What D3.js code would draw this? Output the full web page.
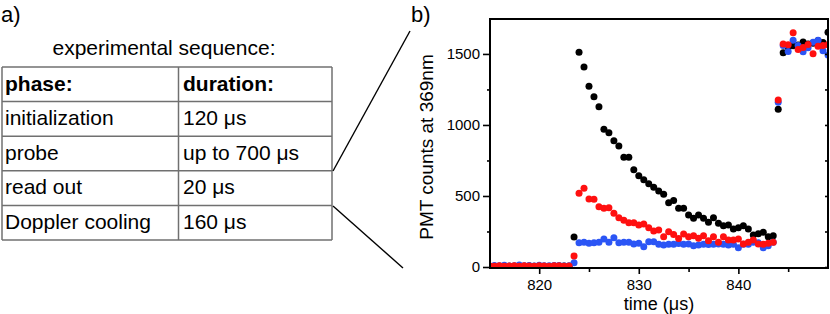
<!DOCTYPE html>
<html>
<head>
<meta charset="utf-8">
<script src="https://cdn.jsdelivr.net/npm/d3@7"></script>
<style>
  body { margin: 0; background: #fff; }
  svg { display: block; font-family: "Liberation Sans", Arial, sans-serif; }
</style>
</head>
<body>
<div id="chart"></div>
<script>
// ---- table data (panel a) ----
const tableTitle = "experimental sequence:";
const tableHeader = ["phase:", "duration:"];
const phases = ["initialization", "probe", "read out", "Doppler cooling"];
const durations = ["120 μs", "up to 700 μs", "20 μs", "160 μs"];

// ---- scatter data (panel b), one point every 0.5 µs ----
const times = [815.0, 815.5, 816.0, 816.5, 817.0, 817.5, 818.0, 818.5, 819.0, 819.5,
  820.0, 820.5, 821.0, 821.5, 822.0, 822.5, 823.0, 823.5, 824.0, 824.5,
  825.0, 825.5, 826.0, 826.5, 827.0, 827.5, 828.0, 828.5, 829.0, 829.5,
  830.0, 830.5, 831.0, 831.5, 832.0, 832.5, 833.0, 833.5, 834.0, 834.5,
  835.0, 835.5, 836.0, 836.5, 837.0, 837.5, 838.0, 838.5, 839.0, 839.5,
  840.0, 840.5, 841.0, 841.5, 842.0, 842.5, 843.0, 843.5, 844.0, 844.5,
  845.0, 845.5, 846.0, 846.5, 847.0, 847.5, 848.0, 848.5, 849.0];

const blackCounts = [5, 6, 4, 7, 5, 6, 4, 5, 7, 6, 5, 6, 4, 5, 6, 7, 5,
  211, 1512, 1408, 1272, 1199, 1129, 970, 946, 889, 852, 773, 773, 685,
  643, 615, 587, 561, 535, 512, 453, 468, 413, 413, 366, 343, 366, 343,
  315, 347, 308, 291, 296, 268, 277, 291, 268, 225, 235, 244, 213, 220,
  1111, 1509, 1545, 1558, 1563, 1584, 1570, 1575, 1594, 1580, 1653];

const blueCounts = [6, 10, 8, 12, 7, 9, 15, 8, 10, 7, 12, 9, 8, 11, 10, 7, 9,
  30, 171, 174, 167, 170, 174, 197, 174, 206, 170, 174, 174, 162,
  167, 143, 178, 178, 160, 155, 160, 160, 165, 160, 162, 150, 155, 160,
  158, 160, 162, 160, 155, 160, 136, 160, 160, 174, 170, 136, 150, 174,
  1160, 1560, 1517, 1596, 1560, 1515, 1543, 1582, 1596, 1523, 1493];

const redCounts = [8, 5, 9, 6, 7, 8, 5, 9, 7, 6, 8, 7, 5, 9, 8, 6, 7,
  77, 519, 554, 479, 477, 425, 413, 418, 378, 347, 329, 312, 312,
  296, 303, 277, 254, 261, 213, 249, 228, 200, 232, 213, 220, 202, 220,
  185, 213, 174, 213, 190, 190, 197, 162, 174, 190, 162, 160, 167, 174,
  1176, 1570, 1565, 1650, 1532, 1545, 1567, 1502, 1555, 1560, 1565];

const xMajor = [820, 830, 840];
const xMinor = [825, 835, 845];
const yMajor = [0, 500, 1000, 1500];
const yMinor = [250, 750, 1250];

const W = 830, H = 314;
const FONT = '"Liberation Sans", Arial, sans-serif';

const svg = d3.select("#chart").append("svg")
  .attr("width", W)
  .attr("height", H);

// ---------------- panel a: table ----------------
svg.append("text").attr("x", 1).attr("y", 22)
  .style("font-size", "22px").text("a)");

svg.append("text").attr("x", 164).attr("y", 55)
  .attr("text-anchor", "middle")
  .style("font-size", "21px")
  .text(tableTitle);

const tblLeft = 2, tblCol = 178.5, tblRight = 332, tblTop = 67, rowH = 34.6;
const rows = [tableHeader].concat(phases.map((p, i) => [p, durations[i]]));
const rowY = d3.scaleLinear().domain([0, rows.length]).range([tblTop, tblTop + rowH * rows.length]);

const tbl = svg.append("g");
tbl.selectAll("line.h")
  .data(d3.range(rows.length + 1))
  .enter().append("line")
  .attr("x1", tblLeft).attr("x2", tblRight)
  .attr("y1", d => rowY(d)).attr("y2", d => rowY(d))
  .attr("stroke", "#707070").attr("stroke-width", 1.5);
tbl.selectAll("line.v")
  .data([tblLeft, tblCol, tblRight])
  .enter().append("line")
  .attr("x1", d => d).attr("x2", d => d)
  .attr("y1", rowY(0)).attr("y2", rowY(rows.length))
  .attr("stroke", "#707070").attr("stroke-width", 1.5);

rows.forEach((r, i) => {
  [5, 183].forEach((cx, j) => {
    tbl.append("text")
      .attr("x", cx)
      .attr("y", rowY(i) + 23.5)
      .style("font-size", "21px")
      .style("font-weight", i === 0 ? "bold" : "normal")
      .text(r[j]);
  });
});

// zoom lines from table to plot
svg.append("line").attr("x1", 333).attr("y1", 171).attr("x2", 410).attr("y2", 31)
  .attr("stroke", "#000").attr("stroke-width", 1.4);
svg.append("line").attr("x1", 333).attr("y1", 206).attr("x2", 403).attr("y2", 268)
  .attr("stroke", "#000").attr("stroke-width", 1.4);

// ---------------- panel b: scatter ----------------
svg.append("text").attr("x", 411).attr("y", 22)
  .style("font-size", "22px").text("b)");

const pl = 490, pr = 828, pt = 19, pb = 268;
const x = d3.scaleLinear().domain([815.06, 849.0]).range([pl, pr]);
const y = d3.scaleLinear().domain([-7, 1746]).range([pb, pt]);

svg.append("clipPath").attr("id", "plotClip")
  .append("rect").attr("x", pl).attr("y", pt).attr("width", pr - pl).attr("height", pb - pt);

const dots = svg.append("g").attr("clip-path", "url(#plotClip)");
const series = [
  { values: blackCounts, color: "#000000" },
  { values: blueCounts, color: "#2b55f5" },
  { values: redCounts, color: "#ff1010" }
];
series.forEach(s => {
  dots.append("g").selectAll("circle")
    .data(times.map((t, i) => [t, s.values[i]]))
    .enter().append("circle")
    .attr("cx", d => x(d[0]))
    .attr("cy", d => y(d[1]))
    .attr("r", 3.5)
    .attr("fill", s.color);
});

// axes
const axisStyle = g => {
  g.select(".domain").remove();
  g.selectAll("line").attr("stroke", "#000").attr("stroke-width", 1.6);
  g.selectAll("text").style("font-size", "15px").style("font-family", FONT).attr("fill", "#000");
};

svg.append("g").attr("transform", `translate(0,${pb})`)
  .call(d3.axisBottom(x).tickValues(xMajor).tickSize(6).tickPadding(5).tickFormat(d3.format("d")))
  .call(axisStyle);
svg.append("g").attr("transform", `translate(0,${pb})`)
  .call(d3.axisBottom(x).tickValues(xMinor).tickSize(4).tickFormat(""))
  .call(axisStyle);

svg.append("g").attr("transform", `translate(${pl},0)`)
  .call(d3.axisLeft(y).tickValues(yMajor).tickSize(7).tickPadding(3).tickFormat(d3.format("d")))
  .call(axisStyle);
svg.append("g").attr("transform", `translate(${pl},0)`)
  .call(d3.axisLeft(y).tickValues(yMinor).tickSize(3).tickFormat(""))
  .call(axisStyle);

// right side inner ticks
svg.append("g").attr("transform", `translate(${pr},0)`)
  .call(d3.axisLeft(y).tickValues(yMajor.concat(yMinor)).tickSize(3).tickFormat(""))
  .call(axisStyle);

// frame
svg.append("rect")
  .attr("x", pl).attr("y", pt).attr("width", pr - pl).attr("height", pb - pt)
  .attr("fill", "none").attr("stroke", "#000").attr("stroke-width", 2);

// axis titles
svg.append("text")
  .attr("transform", `translate(433,147) rotate(-90)`)
  .attr("text-anchor", "middle")
  .style("font-size", "19px")
  .text("PMT counts at 369nm");

svg.append("text")
  .attr("x", (pl + pr) / 2).attr("y", 310)
  .attr("text-anchor", "middle")
  .style("font-size", "18px")
  .text("time (μs)");
</script>
</body>
</html>
